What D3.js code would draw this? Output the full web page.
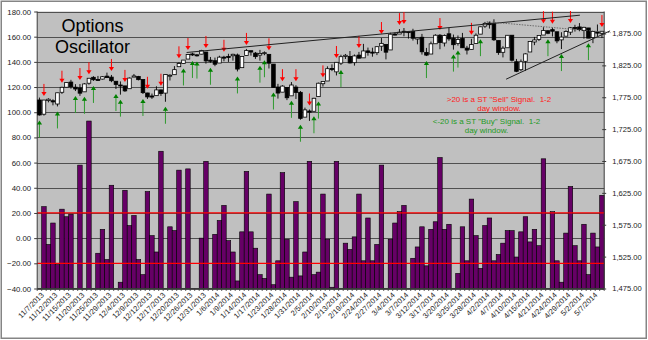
<!DOCTYPE html>
<html>
<head>
<meta charset="utf-8">
<script src="https://cdn.jsdelivr.net/npm/d3@7"></script>
<style>
  html, body { margin: 0; padding: 0; background: #fff; }
  svg { display: block; }
  text { font-family: "Liberation Sans", Arial, Helvetica, sans-serif; }
</style>
</head>
<body>
<svg id="chart" width="648" height="340"></svg>
<script>
// Trading days (S&P 500 sessions)
const dates = [
  "11/7/2013","11/8/2013","11/11/2013","11/12/2013","11/13/2013","11/14/2013","11/15/2013","11/18/2013","11/19/2013","11/20/2013",
  "11/21/2013","11/22/2013","11/25/2013","11/26/2013","11/27/2013","11/29/2013","12/2/2013","12/3/2013","12/4/2013","12/5/2013",
  "12/6/2013","12/9/2013","12/10/2013","12/11/2013","12/12/2013","12/13/2013","12/16/2013","12/17/2013","12/18/2013","12/19/2013",
  "12/20/2013","12/23/2013","12/24/2013","12/26/2013","12/27/2013","12/30/2013","12/31/2013","1/2/2014","1/3/2014","1/6/2014",
  "1/7/2014","1/8/2014","1/9/2014","1/10/2014","1/13/2014","1/14/2014","1/15/2014","1/16/2014","1/17/2014","1/21/2014",
  "1/22/2014","1/23/2014","1/24/2014","1/27/2014","1/28/2014","1/29/2014","1/30/2014","1/31/2014","2/3/2014","2/4/2014",
  "2/5/2014","2/6/2014","2/7/2014","2/10/2014","2/11/2014","2/12/2014","2/13/2014","2/14/2014","2/18/2014","2/19/2014",
  "2/20/2014","2/21/2014","2/24/2014","2/25/2014","2/26/2014","2/27/2014","2/28/2014","3/3/2014","3/4/2014","3/5/2014",
  "3/6/2014","3/7/2014","3/10/2014","3/11/2014","3/12/2014","3/13/2014","3/14/2014","3/17/2014","3/18/2014","3/19/2014",
  "3/20/2014","3/21/2014","3/24/2014","3/25/2014","3/26/2014","3/27/2014","3/28/2014","3/31/2014","4/1/2014","4/2/2014",
  "4/3/2014","4/4/2014","4/7/2014","4/8/2014","4/9/2014","4/10/2014","4/11/2014","4/14/2014","4/15/2014","4/16/2014",
  "4/17/2014","4/21/2014","4/22/2014","4/23/2014","4/24/2014","4/25/2014","4/28/2014","4/29/2014","4/30/2014","5/1/2014",
  "5/2/2014","5/5/2014","5/6/2014","5/7/2014","5/8/2014","5/9/2014"
];

// Category labels shown on the date axis
const tickLabels = [
  "11/7/2013","11/12/2013","11/15/2013","11/20/2013","11/25/2013","11/29/2013","12/4/2013","12/9/2013","12/12/2013","12/17/2013",
  "12/20/2013","12/26/2013","12/31/2013","1/6/2014","1/9/2014","1/14/2014","1/17/2014","1/23/2014","1/28/2014","1/31/2014",
  "2/5/2014","2/10/2014","2/13/2014","2/19/2014","2/24/2014","2/27/2014","3/4/2014","3/7/2014","3/12/2014","3/17/2014",
  "3/20/2014","3/25/2014","3/28/2014","4/2/2014","4/7/2014","4/10/2014","4/15/2014","4/21/2014","4/24/2014","4/29/2014",
  "5/2/2014","5/7/2014"
];

// S&P 500 daily prices
const open = [
  1770.7,1748.4,1769.7,1769.5,1764.4,1782.8,1790.7,1798.8,1790.8,1789.6,
  1783.5,1797.0,1806.3,1802.9,1803.5,1808.1,1806.6,1800.1,1794.2,1792.8,
  1788.4,1806.6,1807.6,1802.8,1781.7,1777.0,1777.5,1786.5,1781.5,1809.0,
  1810.4,1822.9,1828.0,1834.9,1842.9,1841.5,1842.6,1845.9,1833.2,1832.3,
  1828.7,1837.9,1839.0,1840.1,1841.3,1821.4,1840.5,1848.0,1844.2,1841.1,
  1844.7,1842.3,1827.0,1791.0,1783.0,1790.2,1777.2,1790.9,1782.7,1743.8,
  1753.4,1753.0,1776.0,1796.2,1800.5,1820.1,1814.8,1828.5,1839.0,1838.9,
  1829.2,1841.1,1836.8,1847.7,1845.8,1844.9,1855.1,1857.7,1849.2,1874.1,
  1874.2,1878.5,1877.9,1878.3,1866.2,1869.1,1845.1,1842.8,1858.9,1872.3,
  1860.1,1874.5,1867.7,1859.5,1867.1,1852.1,1850.1,1859.2,1874.0,1886.6,
  1891.4,1890.3,1863.9,1845.5,1852.6,1872.3,1830.7,1818.2,1831.4,1846.0,
  1861.7,1865.8,1872.6,1879.3,1881.0,1877.7,1865.0,1870.8,1877.1,1884.4,
  1885.3,1879.5,1883.7,1868.5,1877.4,1875.3
];
const high = [
  1774.5,1770.8,1773.4,1771.8,1782.0,1791.5,1798.2,1802.3,1795.5,1795.7,
  1797.2,1804.8,1808.1,1808.4,1808.3,1813.6,1810.0,1800.1,1799.8,1792.8,
  1806.0,1811.5,1808.5,1802.9,1782.0,1780.8,1792.2,1786.8,1811.1,1810.9,
  1823.8,1829.8,1833.3,1842.8,1844.9,1842.5,1849.4,1846.0,1838.2,1837.2,
  1840.1,1840.0,1843.2,1843.2,1843.5,1839.3,1850.8,1848.0,1846.0,1849.3,
  1846.9,1842.3,1827.0,1796.0,1793.9,1790.2,1798.8,1793.9,1784.8,1758.7,
  1755.8,1774.1,1798.0,1799.9,1823.5,1826.6,1830.3,1841.7,1842.9,1847.5,
  1842.1,1846.1,1858.7,1852.9,1852.7,1854.5,1867.9,1857.7,1876.2,1876.5,
  1881.9,1883.6,1877.9,1882.4,1868.4,1874.4,1852.4,1862.3,1873.8,1874.1,
  1873.5,1884.0,1873.3,1871.9,1875.9,1855.6,1866.6,1875.2,1885.8,1893.2,
  1893.8,1897.3,1864.0,1855.0,1872.4,1872.5,1835.1,1834.2,1844.0,1862.3,
  1869.6,1871.9,1884.9,1879.8,1884.1,1877.7,1877.0,1880.0,1885.2,1888.6,
  1891.3,1885.5,1883.7,1878.8,1889.1,1878.8
];
const low = [
  1746.2,1746.2,1767.0,1762.3,1760.6,1780.2,1790.7,1788.4,1784.7,1777.2,
  1783.5,1794.7,1800.6,1800.8,1802.8,1805.8,1798.6,1787.9,1779.1,1783.4,
  1788.4,1806.6,1801.4,1780.1,1772.3,1772.4,1777.5,1777.1,1767.9,1801.3,
  1810.3,1822.9,1828.0,1834.9,1839.8,1838.8,1842.4,1827.7,1829.1,1823.7,
  1828.7,1831.4,1830.4,1832.4,1815.5,1821.4,1840.5,1840.3,1835.2,1832.4,
  1840.9,1820.1,1790.3,1772.9,1783.0,1770.5,1777.2,1772.3,1739.7,1743.8,
  1737.9,1753.0,1776.0,1791.8,1800.5,1816.0,1809.2,1825.6,1835.0,1828.0,
  1824.6,1835.6,1836.8,1840.2,1838.6,1841.1,1847.7,1834.4,1849.2,1871.9,
  1874.2,1870.6,1867.0,1863.9,1858.0,1841.9,1839.6,1842.8,1858.9,1850.3,
  1854.6,1863.5,1849.7,1856.0,1852.6,1842.1,1850.1,1859.2,1874.0,1883.8,
  1882.7,1863.3,1841.5,1837.5,1852.4,1831.0,1814.4,1815.8,1816.3,1846.0,
  1856.7,1863.2,1872.6,1873.9,1870.3,1859.7,1850.6,1870.8,1872.7,1878.0,
  1878.5,1866.8,1867.7,1859.8,1870.1,1867.8
];
const close = [
  1747.2,1770.6,1771.9,1767.7,1782.0,1790.6,1798.2,1791.5,1787.9,1781.4,
  1795.9,1804.8,1802.5,1802.8,1807.2,1805.8,1800.9,1795.2,1792.8,1785.0,
  1805.1,1808.4,1802.6,1782.2,1775.5,1775.3,1786.5,1781.0,1810.7,1809.6,
  1818.3,1828.0,1833.3,1842.0,1841.4,1841.1,1848.4,1832.0,1831.4,1826.8,
  1837.9,1837.5,1838.1,1842.4,1819.2,1838.9,1848.4,1845.9,1838.7,1843.8,
  1844.9,1828.5,1790.3,1781.6,1792.5,1774.2,1794.2,1782.6,1741.9,1755.2,
  1751.6,1773.4,1797.0,1799.8,1819.8,1819.3,1829.8,1838.6,1840.8,1828.8,
  1839.8,1836.3,1847.6,1845.1,1845.2,1854.3,1859.5,1845.7,1873.9,1873.8,
  1877.0,1878.0,1877.2,1867.6,1868.2,1846.3,1841.1,1858.8,1872.3,1860.8,
  1872.0,1866.5,1857.4,1865.6,1852.6,1849.0,1857.6,1872.3,1885.5,1890.9,
  1888.8,1865.1,1845.0,1852.0,1872.2,1833.1,1815.7,1830.6,1843.0,1862.3,
  1864.9,1871.9,1879.6,1875.4,1878.6,1863.4,1869.4,1878.3,1884.0,1883.7,
  1881.1,1884.7,1867.7,1878.2,1875.6,1878.5
];

// Options oscillator reading per session (below -40 falls under the axis floor)
const oscillator = [
  -45, 25, -5, 12, -21, 23, 17, 19, -45, 58,
  -45, 93, -45, -12, 7, -17, 42, -45, -35, 38,
  10, 18, -17, -29, 37, 2, -11, 69, -45, 9,
  6, 54, -45, 55, -45, -45, 0, 61, -45, 3,
  14, 26, -2, -11, -34, 5, 53, 5, -8, -29,
  -32, 35, -37, -18, 52, -1, -31, 29, -30, -11,
  61, -29, -27, 35, -1, -39, 61, -45, -4, -9,
  1, 35, -18, 16, -18, -5, 58, -45, -1, 12,
  21, 26, -45, -16, -7, 9, -22, 7, 13, 64,
  7, 11, -45, -28, 9, -18, 31, 2, -24, 10,
  16, -18, -13, -4, 6, 6, -15, 5, 17, -3,
  7, -6, 63, -45, 21, -18, -35, 4, 41, -6,
  -18, 11, -29, 4, -7, 34
];

// Sessions flagged with a short-term signal
const sellSignals = [1,5,9,11,16,19,24,27,31,33,37,41,46,51,54,57,60,63,66,71,76,80,81,89,96,112,114,118,125];
const buySignals  = [0,4,8,10,12,17,18,23,28,32,34,35,38,44,49,50,52,56,58,61,62,67,86,92,93,98,113,116,122];

// Signal thresholds on the oscillator
const thresholds = [20, -20];

// Hand-drawn trend lines: [session index, index level]
const trendStart = [[32.7, 1845.2], [103.7, 1803.3], [99.4, 1893.5]];
const trendEnd   = [[120.1, 1903.7], [126.8, 1879.1], [127.0, 1876.3]];
const trendDash  = [null, null, "1.5,1.2"];

const leftTicks  = d3.range(-40, 181, 20);
const rightTicks = d3.range(1475, 1876, 50);

// ---------------------------------------------------------------- layout
const W = 648, H = 340;
const plot = { left: 37.2, right: 604.2, top: 11.5, bottom: 288.5 };

const svg = d3.select("#chart");

const x = d3.scaleBand().domain(dates).range([plot.left, plot.right]).paddingInner(0).paddingOuter(0);
const bw = x.bandwidth();
const xi = d3.scaleLinear().domain([0, dates.length - 1])
  .range([x(dates[0]) + bw / 2, x(dates[dates.length - 1]) + bw / 2]);
const yL = d3.scaleLinear().domain([-40, 180]).range([plot.bottom, plot.top]);
const yR = d3.scaleLinear().domain([1475, 1909.5]).range([plot.bottom, plot.top]);

// chart area and frame
svg.append("rect").attr("x", 0).attr("y", 0).attr("width", W).attr("height", H).attr("fill", "#fff");
svg.append("rect").attr("x", 1.25).attr("y", 1.25).attr("width", W - 3).attr("height", H - 3)
  .attr("fill", "none").attr("stroke", "#858585").attr("stroke-width", 1.5);

// plot background
svg.append("rect")
  .attr("x", plot.left).attr("y", plot.top)
  .attr("width", plot.right - plot.left).attr("height", plot.bottom - plot.top)
  .attr("fill", "#c0c0c0");

// horizontal gridlines
svg.append("g").selectAll("line").data(leftTicks).join("line")
  .attr("x1", plot.left).attr("x2", plot.right)
  .attr("y1", d => Math.round(yL(d)) + 0.5).attr("y2", d => Math.round(yL(d)) + 0.5)
  .attr("stroke", "#505050").attr("stroke-width", 1);

// oscillator bars rising from the axis floor
svg.append("g").selectAll("rect").data(oscillator).join("rect")
  .attr("x", (d, i) => x(dates[i]))
  .attr("width", bw)
  .attr("y", d => yL(Math.max(d, -40)))
  .attr("height", d => Math.max(0, yL(-40) - yL(Math.max(d, -40))))
  .attr("fill", "#660066")
  .attr("stroke", d => d > -40 ? "#000" : "none")
  .attr("stroke-width", 0.6);

// threshold lines
svg.append("g").selectAll("line").data(thresholds).join("line")
  .attr("x1", plot.left).attr("x2", plot.right)
  .attr("y1", d => yL(d)).attr("y2", d => yL(d))
  .attr("stroke", "#ff0000").attr("stroke-width", 1.3);

// axis lines
const axisColor = "#3a3a3a";
svg.append("line").attr("x1", plot.left).attr("x2", plot.left).attr("y1", plot.top).attr("y2", plot.bottom)
  .attr("stroke", axisColor).attr("stroke-width", 1);
svg.append("line").attr("x1", plot.right).attr("x2", plot.right).attr("y1", plot.top).attr("y2", plot.bottom)
  .attr("stroke", axisColor).attr("stroke-width", 1);
svg.append("line").attr("x1", plot.left).attr("x2", plot.right).attr("y1", plot.bottom).attr("y2", plot.bottom)
  .attr("stroke", axisColor).attr("stroke-width", 1);

// left axis
const gL = svg.append("g").attr("transform", `translate(${plot.left},0)`)
  .call(d3.axisLeft(yL).tickValues(leftTicks).tickFormat(d3.format(".2f")).tickSize(3).tickPadding(3));
gL.select(".domain").remove();
gL.selectAll(".tick line").attr("stroke", axisColor);
gL.selectAll(".tick text").attr("font-size", 7.8).attr("fill", "#1a1a1a")
  .attr("font-family", "'Liberation Sans', Arial, sans-serif");

// right axis (index level), ticks crossing the axis
const gR = svg.append("g").attr("transform", `translate(${plot.right},0)`)
  .call(d3.axisRight(yR).tickValues(rightTicks).tickFormat(d3.format(",.2f")).tickSize(2).tickPadding(6));
gR.select(".domain").remove();
gR.selectAll(".tick line").attr("x1", -2).attr("x2", 2).attr("stroke", axisColor);
gR.selectAll(".tick text").attr("font-size", 7.6).attr("fill", "#1a1a1a")
  .attr("font-family", "'Liberation Sans', Arial, sans-serif");

// category tick marks on the date axis
svg.append("g").selectAll("line").data(d3.range(dates.length + 1)).join("line")
  .attr("x1", i => plot.left + i * bw).attr("x2", i => plot.left + i * bw)
  .attr("y1", plot.bottom).attr("y2", plot.bottom + 2.5)
  .attr("stroke", axisColor).attr("stroke-width", 0.8);

// rotated date labels
svg.append("g").selectAll("text").data(tickLabels).join("text")
  .attr("transform", d => `translate(${x(d) + bw / 2 + 1},${plot.bottom + 3}) rotate(-45)`)
  .attr("text-anchor", "end").attr("dy", "0.75em")
  .attr("font-size", 7.5).attr("fill", "#1a1a1a")
  .text(d => d);

// candlesticks: high-low line plus open-close body
const candles = svg.append("g");
candles.selectAll("line").data(dates).join("line")
  .attr("x1", (d, i) => xi(i)).attr("x2", (d, i) => xi(i))
  .attr("y1", (d, i) => yR(high[i])).attr("y2", (d, i) => yR(low[i]))
  .attr("stroke", "#000").attr("stroke-width", 0.9);
const bodyW = 3.6;
candles.selectAll("rect").data(dates).join("rect")
  .attr("x", (d, i) => xi(i) - bodyW / 2)
  .attr("width", bodyW)
  .attr("y", (d, i) => yR(Math.max(open[i], close[i])))
  .attr("height", (d, i) => Math.max(1, Math.abs(yR(open[i]) - yR(close[i]))))
  .attr("fill", (d, i) => close[i] >= open[i] ? "#fff" : "#000")
  .attr("stroke", "#000").attr("stroke-width", 0.8);

// sell signals: red arrows pointing down onto the session high
const sellG = svg.append("g");
sellSignals.forEach(i => {
  const cx = xi(i), tip = yR(high[i]) - 4;
  sellG.append("line").attr("x1", cx).attr("x2", cx).attr("y1", tip - 12).attr("y2", tip - 3)
    .attr("stroke", "#ff0000").attr("stroke-width", 1);
  sellG.append("path")
    .attr("d", `M${cx - 2.6},${tip - 4}L${cx + 2.6},${tip - 4}L${cx},${tip}Z`)
    .attr("fill", "#ff0000");
});

// buy signals: green arrows pointing up under the session low
const buyG = svg.append("g");
buySignals.forEach(i => {
  const cx = xi(i), head = yR(low[i]) + 5;
  buyG.append("line").attr("x1", cx).attr("x2", cx).attr("y1", head + 3).attr("y2", head + 17)
    .attr("stroke", "#2e9a2e").attr("stroke-width", 1);
  buyG.append("path")
    .attr("d", `M${cx - 2.6},${head + 4}L${cx + 2.6},${head + 4}L${cx},${head}Z`)
    .attr("fill", "#008000");
});

// trend lines
svg.append("g").selectAll("line").data(trendStart).join("line")
  .attr("x1", d => xi(d[0])).attr("y1", d => yR(d[1]))
  .attr("x2", (d, k) => xi(trendEnd[k][0])).attr("y2", (d, k) => yR(trendEnd[k][1]))
  .attr("stroke", (d, k) => trendDash[k] ? "#555" : "#222")
  .attr("stroke-width", (d, k) => trendDash[k] ? 0.8 : 1)
  .attr("stroke-dasharray", (d, k) => trendDash[k]);

// title
const title = svg.append("text").attr("x", 92.5).attr("text-anchor", "middle")
  .attr("font-size", 18).attr("fill", "#000");
title.append("tspan").attr("x", 92.5).attr("y", 31.5).text("Options");
title.append("tspan").attr("x", 92.5).attr("y", 53.3).text("Oscillator");

// signal notes
const notes = [
  { lines: ['>20 is a ST "Sell" Signal.  1-2', "day window."], color: "#ff1a1a", cx: 499, y: 101.8 },
  { lines: ['<-20 is a ST "Buy" Signal.  1-2', "day window."], color: "#1f9a1f", cx: 486.5, y: 124.2 }
];
notes.forEach(n => {
  const t = svg.append("text").attr("text-anchor", "middle").attr("font-size", 8).attr("fill", n.color)
    .attr("xml:space", "preserve").style("white-space", "pre");
  n.lines.forEach((s, k) => t.append("tspan").attr("x", n.cx).attr("y", n.y + k * 9.2).text(s));
});
</script>
</body>
</html>
